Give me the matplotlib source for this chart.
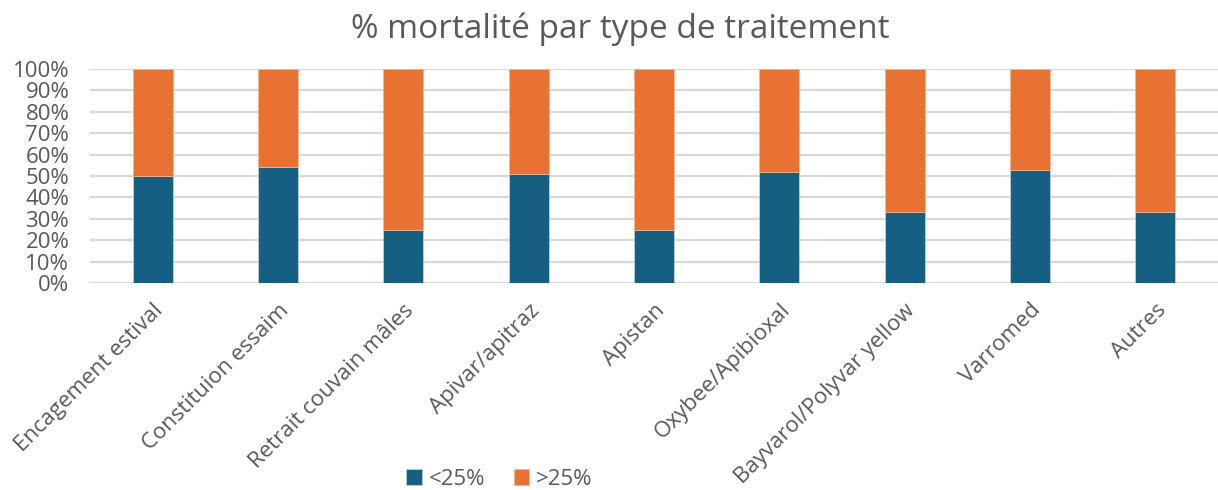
import matplotlib
matplotlib.use("Agg")
import matplotlib.pyplot as plt
from matplotlib.ticker import PercentFormatter

categories = ["Encagement estival", "Constituion essaim", "Retrait couvain mâles",
              "Apivar/apitraz", "Apistan", "Oxybee/Apibioxal",
              "Bayvarol/Polyvar yellow", "Varromed", "Autres"]
below25 = [50, 54, 25, 51, 25, 52, 33, 53, 33]
above25 = [100 - v for v in below25]
series_names = ["<25%", ">25%"]
yticks = list(range(0, 101, 10))

plt.rcParams['font.family'] = ['Open Sans', 'DejaVu Sans']
text_color = "#595959"

fig = plt.figure(figsize=(12.18, 4.9), dpi=100)
ax = fig.add_axes([0.074, 0.4224, 0.926, 0.4366])

x = list(range(len(categories)))
b1 = ax.bar(x, below25, width=0.32, color="#156082", edgecolor="#c9d6de", linewidth=0.5,
            label=series_names[0], zorder=3)
b2 = ax.bar(x, above25, width=0.32, bottom=below25, color="#E97132", edgecolor="#f3b896",
            linewidth=0.5, label=series_names[1], zorder=3)

ax.set_xlim(-0.5, len(categories) - 0.5)
ax.set_ylim(0, 100)
ax.set_yticks(yticks)
ax.yaxis.set_major_formatter(PercentFormatter(decimals=0))
ax.grid(axis='y', color="#d9d9d9", linewidth=1.6, zorder=0)
for s in ax.spines.values():
    s.set_visible(False)
ax.tick_params(axis='both', length=0, colors=text_color, labelsize=16)
ax.tick_params(axis='y', pad=15)
ax.set_xticks(x)
ax.set_xticklabels(categories, rotation=45, ha='right', rotation_mode='anchor')
ax.tick_params(axis='x', pad=12)

fig.text(0.509, 0.94, "% mortalité par type de traitement", ha='center', va='center',
         fontsize=24, color=text_color)

leg = fig.legend(handles=[b1, b2], labels=series_names, loc='center',
                 bbox_to_anchor=(0.36, 0.022, 0.1, 0.0), ncol=2, frameon=False,
                 fontsize=16, handlelength=0.7, handleheight=0.7, handletextpad=0.3,
                 columnspacing=1.3, labelcolor=text_color)

fig.savefig("out.png", dpi=100)
